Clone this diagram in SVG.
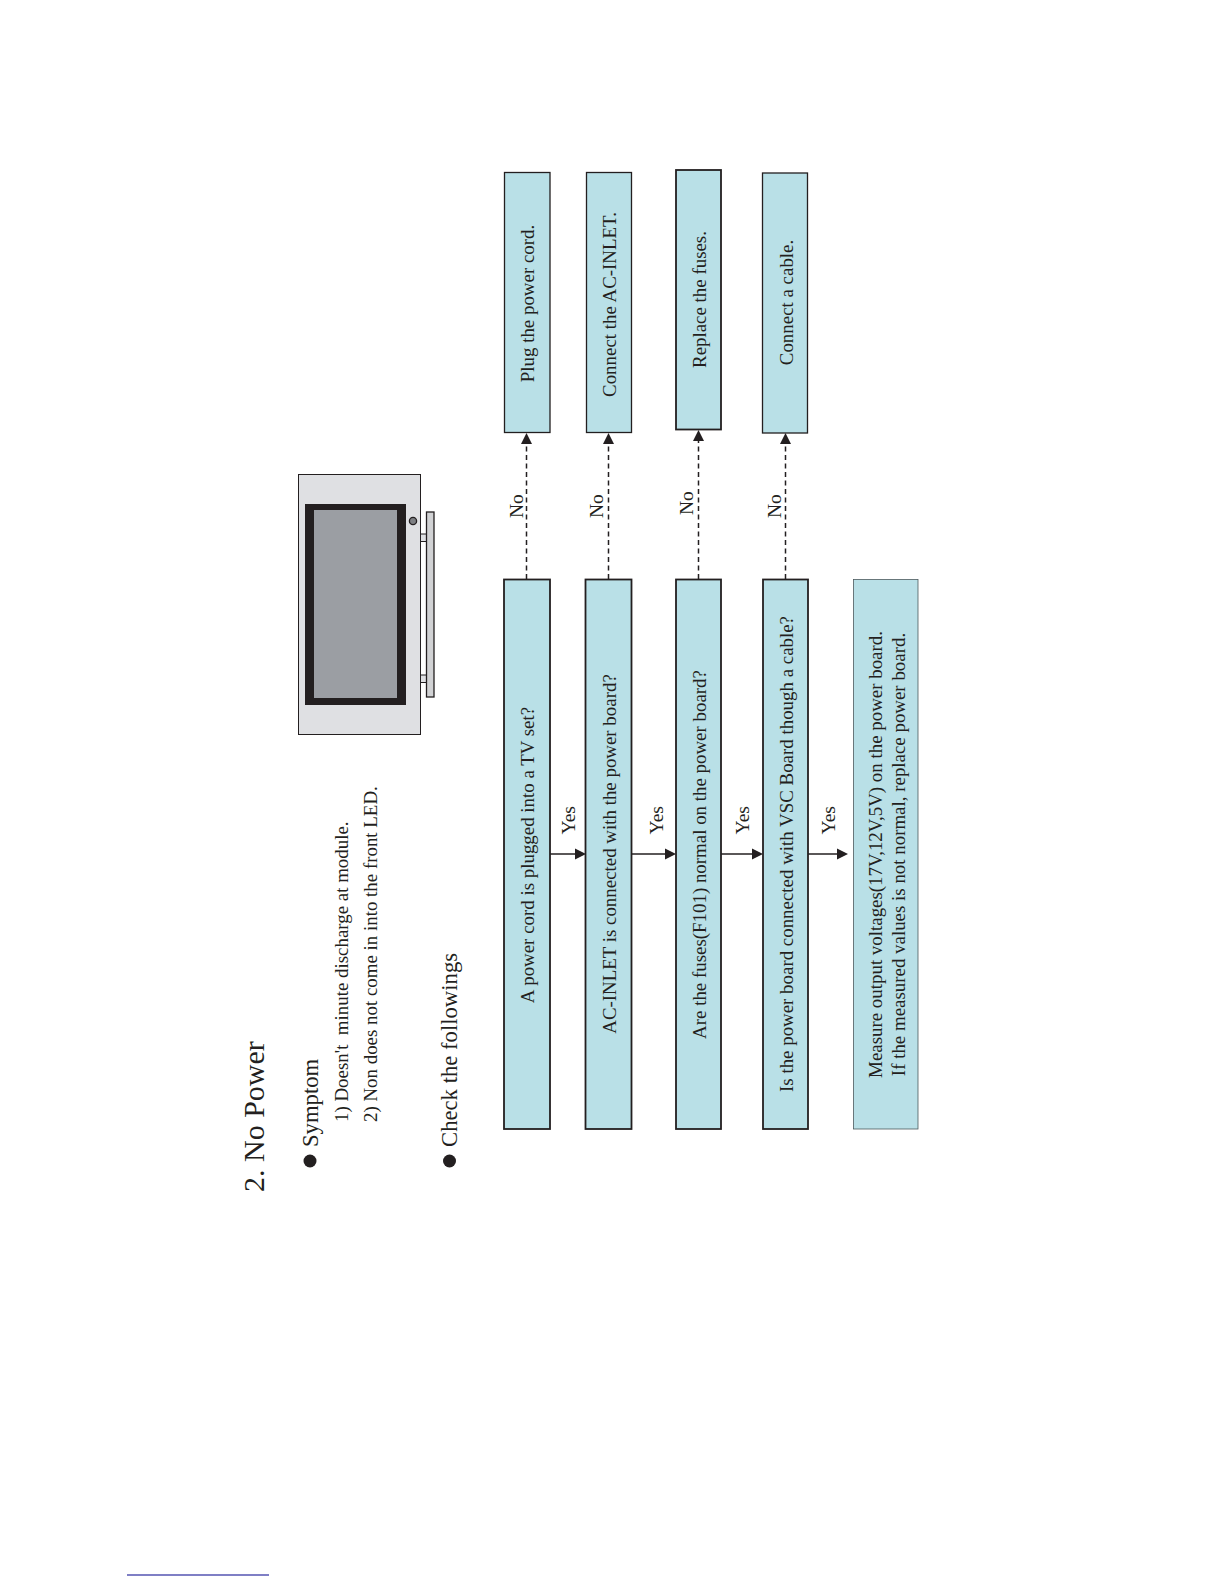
<svg xmlns="http://www.w3.org/2000/svg" width="1224" height="1584" viewBox="0 0 1224 1584">
<style>
text{font-family:"Liberation Serif","Times New Roman",serif;fill:#231f20}
.b{fill:#b9e0e7;stroke:#231f20;stroke-width:1.3}
.h{stroke-width:1.8}
.t{font-size:18.9px;text-anchor:middle}
.l{font-size:19.5px}
.d{stroke:#231f20;stroke-width:1.5;stroke-dasharray:5 3.500;fill:none}
.s{stroke:#231f20;stroke-width:1.5;fill:none}
.a{fill:#231f20}
</style>
<rect width="1224" height="1584" fill="#fff"/>
<g id="title"><text transform="translate(263.500,1192) rotate(-90)" font-size="30">2. No Power</text></g>
<g id="symptom">
<circle cx="310" cy="1161" r="6.5" fill="#231f20"/>
<text transform="translate(317.500,1147) rotate(-90)" font-size="22.700">Symptom</text>
<text transform="translate(347.500,1122) rotate(-90)" font-size="18.900">1) Doesn't&#160; minute discharge at module.</text>
<text transform="translate(376.500,1122) rotate(-90)" font-size="18.900">2) Non does not come in into the front LED.</text>
</g>
<g id="check">
<circle cx="449.500" cy="1161" r="6.5" fill="#231f20"/>
<text transform="translate(456.500,1147) rotate(-90)" font-size="22.700">Check the followings</text>
</g>
<g id="tv">
<rect x="298.500" y="474.500" width="122" height="260" fill="#dfe0e3" stroke="#231f20" stroke-width="1"/>
<rect x="305" y="504" width="101" height="201" fill="#231f20"/>
<rect x="314" y="510" width="83" height="188" fill="#9b9ea3"/>
<circle cx="413" cy="521" r="3.600" fill="#7d7f83" stroke="#231f20" stroke-width="1.3"/>
<rect x="420.500" y="534" width="6" height="7.500" fill="#dfe0e3" stroke="#231f20" stroke-width="1"/>
<rect x="420.500" y="675" width="6" height="7.500" fill="#dfe0e3" stroke="#231f20" stroke-width="1"/>
<rect x="426.500" y="512" width="7.500" height="185" fill="#d1d2d4" stroke="#231f20" stroke-width="1.300"/>
</g>
<g id="q1"><rect class="b h" x="504" y="579.500" width="46" height="549.500"/><text class="t" transform="translate(534,855) rotate(-90)">A power cord is plugged into a TV set?</text></g>
<g id="q2"><rect class="b h" x="585.500" y="579.500" width="46" height="549.500"/><text class="t" transform="translate(615.500,854) rotate(-90)">AC-INLET is connected with the power board?</text></g>
<g id="q3"><rect class="b h" x="676" y="579.500" width="45" height="549.500"/><text class="t" transform="translate(706,854.500) rotate(-90)">Are the fuses(F101) normal on the power board?</text></g>
<g id="q4"><rect class="b h" x="763" y="579.500" width="45" height="549.500"/><text class="t" transform="translate(793,854) rotate(-90)">Is the power board connected with VSC Board though a cable?</text></g>
<g id="q5"><rect x="853.500" y="579.500" width="64.500" height="549.500" fill="#b9e0e7" stroke="#4d5a5e" stroke-width="0.800"/>
<text class="t" transform="translate(881.500,854.500) rotate(-90)">Measure output voltages(17V,12V,5V) on the power board.</text>
<text class="t" transform="translate(904.500,854.500) rotate(-90)">If the measured values is not normal, replace power board.</text></g>
<g id="a1"><rect class="b" x="504.500" y="172.500" width="45.500" height="260"/><text class="t" transform="translate(534,303.500) rotate(-90)">Plug the power cord.</text></g>
<g id="a2"><rect class="b" x="586.500" y="172.500" width="45" height="260"/><text class="t" transform="translate(616,304.500) rotate(-90)">Connect the AC-INLET.</text></g>
<g id="a3"><rect class="b h" x="676" y="170" width="45" height="259.500"/><text class="t" transform="translate(705.500,299.500) rotate(-90)">Replace the fuses.</text></g>
<g id="a4"><rect class="b" x="762.500" y="173" width="45" height="260"/><text class="t" transform="translate(792.500,302.500) rotate(-90)">Connect a cable.</text></g>
<g id="connectors">
<path class="d" d="M526.500 579V443"/><path class="a" d="M526.500 433l5.500 11h-11z"/>
<path class="d" d="M608.500 579V443"/><path class="a" d="M608.500 433l5.500 11h-11z"/>
<path class="d" d="M698.500 579V440"/><path class="a" d="M698.500 430l5.500 11h-11z"/>
<path class="d" d="M785.500 579V443"/><path class="a" d="M785.500 433l5.500 11h-11z"/>
<path class="s" d="M550 854H576"/><path class="a" d="M586 854l-11 -5.500v11z"/>
<path class="s" d="M631.500 854H666"/><path class="a" d="M676 854l-11 -5.500v11z"/>
<path class="s" d="M721 854H753"/><path class="a" d="M763 854l-11 -5.500v11z"/>
<path class="s" d="M808 854H838"/><path class="a" d="M848 854l-11 -5.500v11z"/>
</g>
<g id="labels">
<text class="l" transform="translate(522.500,518) rotate(-90)">No</text>
<text class="l" transform="translate(602.500,518) rotate(-90)">No</text>
<text class="l" transform="translate(692.500,515) rotate(-90)">No</text>
<text class="l" transform="translate(780.500,518) rotate(-90)">No</text>
<text class="l" transform="translate(575,834.500) rotate(-90)">Yes</text>
<text class="l" transform="translate(663,834.500) rotate(-90)">Yes</text>
<text class="l" transform="translate(749,834.500) rotate(-90)">Yes</text>
<text class="l" transform="translate(835,834.500) rotate(-90)">Yes</text>
</g>
<path d="M127 1575H269" stroke="#00008b" stroke-width="1.200" fill="none"/>
</svg>
